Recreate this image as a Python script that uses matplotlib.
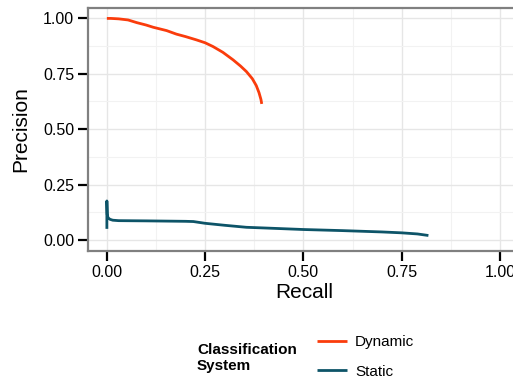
import matplotlib.pyplot as plt
from matplotlib.ticker import MultipleLocator


# values
dynamic_recall = [0.000, 0.010, 0.030, 0.054, 0.076, 0.100, 0.118, 0.152, 0.177,
                  0.200, 0.228, 0.250, 0.270, 0.295, 0.321, 0.340, 0.355, 0.370,
                  0.380, 0.387, 0.392, 0.394]
dynamic_precision = [1.000, 1.000, 0.998, 0.993, 0.981, 0.970, 0.960, 0.945, 0.929,
                     0.918, 0.903, 0.890, 0.873, 0.847, 0.813, 0.785, 0.760, 0.728,
                     0.697, 0.665, 0.634, 0.614]

static_recall = [0.000, 0.000, 0.001, 0.003, 0.008, 0.015, 0.030, 0.100, 0.200,
                 0.220, 0.250, 0.300, 0.355, 0.400, 0.500, 0.600, 0.700, 0.750,
                 0.790, 0.818]
static_precision = [0.050, 0.176, 0.115, 0.100, 0.093, 0.089, 0.087, 0.086, 0.084,
                    0.083, 0.075, 0.066, 0.057, 0.054, 0.047, 0.042, 0.036, 0.032,
                    0.027, 0.020]

ticks = [0.0, 0.25, 0.5, 0.75, 1.0]
tick_labels = ['0.00', '0.25', '0.50', '0.75', '1.00']


def plotting_config():
    plt.rcParams.update({
        'font.family': ['Liberation Sans', 'DejaVu Sans'],
        'font.size': 11,
        'figure.figsize': (5.13, 3.82),
        'figure.dpi': 100,
    })


def main():
    plotting_config()
    fig = plt.figure()
    ax = fig.add_axes([88 / 513, 131 / 382, 432 / 513, 243 / 382])

    ax.plot(dynamic_recall, dynamic_precision, color='#FA3C0C', lw=2.0,
            solid_capstyle='butt', label='Dynamic')
    ax.plot(static_recall, static_precision, color='#0D5468', lw=2.0,
            solid_capstyle='butt', label='Static')

    ax.set_xlim(-0.048, 1.051)
    ax.set_ylim(-0.05, 1.047)
    ax.set_xticks(ticks)
    ax.set_xticklabels(tick_labels)
    ax.set_yticks(ticks)
    ax.set_yticklabels(tick_labels)
    ax.xaxis.set_minor_locator(MultipleLocator(0.125))
    ax.yaxis.set_minor_locator(MultipleLocator(0.125))
    ax.grid(which='major', color='#e6e6e6', lw=1.0)
    ax.grid(which='minor', color='#f2f2f2', lw=0.8)
    ax.set_axisbelow(True)
    ax.tick_params(which='major', length=7, width=1.6, color='black',
                   labelsize=11.5, pad=3)
    ax.tick_params(which='minor', length=0)
    for spine in ax.spines.values():
        spine.set_color('#808080')
        spine.set_linewidth(1.6)

    ax.set_xlabel('Recall', fontsize=15, labelpad=2)
    ax.set_ylabel('Precision', fontsize=15, labelpad=9)

    fig.text(197 / 513, 1 - 358 / 382, 'Classification\nSystem',
             fontsize=11, fontweight='bold', va='center', ha='left',
             linespacing=1.15)
    handles, labels = ax.get_legend_handles_labels()
    fig.legend(handles, labels, loc='center left',
               bbox_to_anchor=(303 / 513, 1 - 357 / 382), frameon=False,
               handlelength=2.0, handletextpad=0.5, labelspacing=1.0,
               fontsize=11)

    fig.savefig('out.png', dpi=100)


if __name__ == "__main__":
    main()
